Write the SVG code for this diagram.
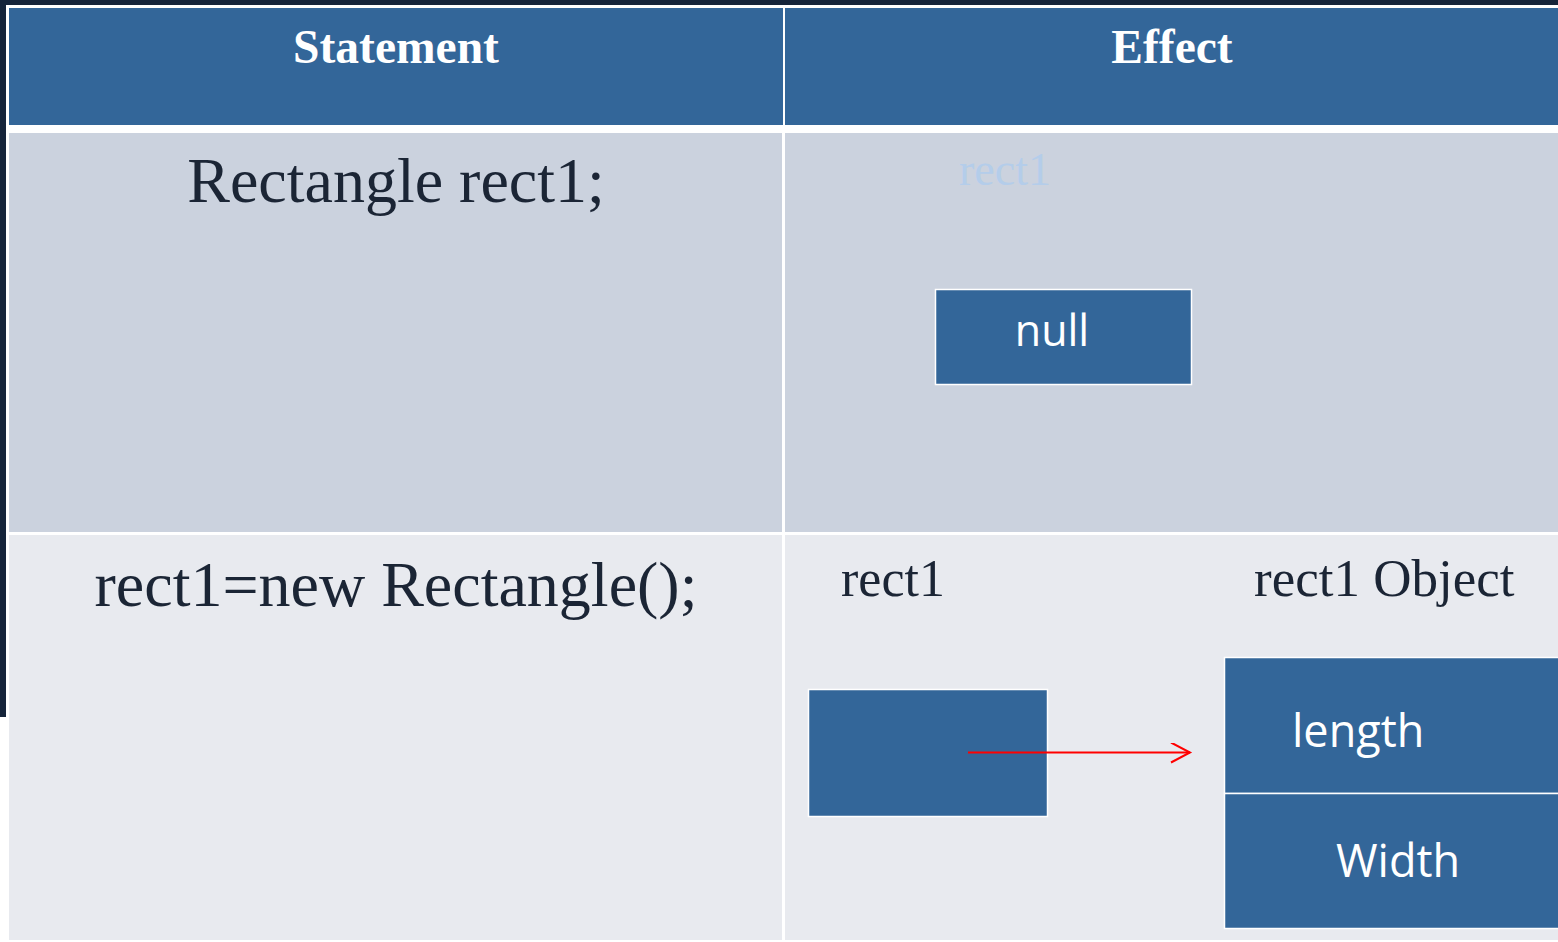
<svg xmlns="http://www.w3.org/2000/svg" width="1558" height="942" viewBox="0 0 1558 942">
<defs>
<style>
.hdr{fill:#336699}
.serif{font-family:"Liberation Serif","Times New Roman",serif}
.sans{font-family:"Open Sans","Noto Sans",sans-serif;fill:#ffffff}
.dark{fill:#1b2535}
.box{fill:#336699;stroke:#ffffff;stroke-width:1.5}
</style>
<marker id="arrow" markerWidth="24" markerHeight="24" refX="21" refY="10" orient="auto" markerUnits="userSpaceOnUse">
<path d="M2,0 L21,10 L2,20" fill="none" stroke="#ff0000" stroke-width="2"/>
</marker>
</defs>
<rect x="0" y="0" width="1558" height="942" fill="#ffffff"/>
<rect x="0" y="0" width="1558" height="5" fill="#15243a"/>
<rect x="0" y="0" width="6" height="717" fill="#15243a"/>
<g id="table">
<rect x="9" y="8" width="774" height="117" class="hdr"/>
<rect x="785" y="8" width="773" height="117" class="hdr"/>
<rect x="9" y="133" width="773" height="399" fill="#cbd2de"/>
<rect x="785" y="133" width="773" height="399" fill="#cbd2de"/>
<rect x="9" y="535" width="773" height="405" fill="#e8eaef"/>
<rect x="785" y="535" width="773" height="405" fill="#e8eaef"/>
<text x="396" y="63" text-anchor="middle" class="serif" font-weight="bold" font-size="47.5" fill="#ffffff">Statement</text>
<text x="1172" y="63" text-anchor="middle" class="serif" font-weight="bold" font-size="47.5" fill="#ffffff">Effect</text>
<text x="396" y="202" text-anchor="middle" class="serif dark" font-size="64">Rectangle rect1;</text>
<text x="396" y="606" text-anchor="middle" class="serif dark" font-size="64">rect1=new Rectangle();</text>
</g>
<g id="label-rect1-faint">
<text x="959" y="185" class="serif" font-size="46" fill="#b4cdea">rect1</text>
</g>
<g id="node-null">
<rect x="935.5" y="289.5" width="256" height="95" class="box"/>
<text x="1052" y="346" text-anchor="middle" class="sans" font-size="43">null</text>
</g>
<g id="label-rect1">
<text x="841" y="596" class="serif dark" font-size="52">rect1</text>
</g>
<g id="label-object">
<text x="1254" y="596" class="serif dark" font-size="53">rect1 Object</text>
</g>
<g id="node-rect1">
<rect x="808.5" y="689.5" width="239" height="127" class="box"/>
</g>
<g id="node-object">
<rect x="1224.5" y="657.5" width="340" height="136" class="box"/>
<rect x="1224.5" y="793.5" width="340" height="135" class="box"/>
<text x="1292" y="747" class="sans" font-size="45">length</text>
<text x="1336" y="877" class="sans" font-size="45">Width</text>
</g>
<g id="connectors">
<line x1="968" y1="752.5" x2="1190" y2="752.5" stroke="#ff0000" stroke-width="2" marker-end="url(#arrow)"/>
</g>
</svg>
